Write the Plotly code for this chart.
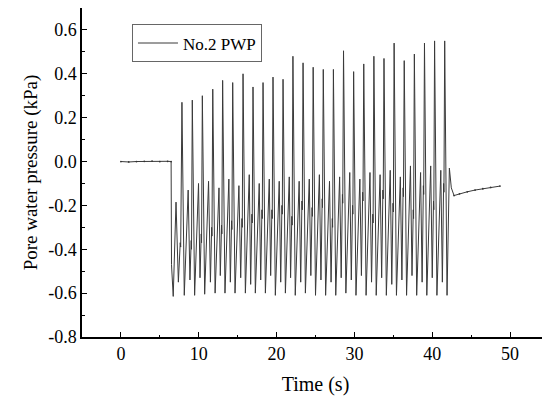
import plotly.graph_objects as go

# ---------------- data ----------------
pre_t = [0.0, 1.0, 2.0, 3.0, 4.0, 5.0, 6.0, 6.45]
pre_v = [0.0, -0.002, 0.0, 0.001, 0.002, 0.0, 0.001, 0.0]

onset_t = [6.5, 6.72, 7.08, 7.38, 7.62, 7.68]
onset_v = [-0.47, -0.615, -0.185, -0.55, -0.37, -0.39]

peak_t = [7.84, 9.17, 10.46, 11.80, 13.07, 14.36, 15.69, 16.97, 18.26, 19.54,
          20.83, 22.10, 23.40, 24.70, 26.00, 27.30, 28.60, 29.90, 31.20, 32.50,
          33.80, 35.10, 36.40, 37.70, 39.00, 40.30, 41.60]
peak_v = [0.27, 0.28, 0.30, 0.33, 0.37, 0.36, 0.40, 0.34, 0.36, 0.385,
          0.375, 0.48, 0.45, 0.43, 0.42, 0.42, 0.505, 0.41, 0.445, 0.48,
          0.47, 0.54, 0.46, 0.49, 0.54, 0.55, 0.55]
trough_v = [-0.61, -0.61, -0.605, -0.60, -0.60, -0.60, -0.60, -0.60, -0.60, -0.61,
            -0.60, -0.61, -0.60, -0.61, -0.61, -0.61, -0.60, -0.61, -0.61, -0.61,
            -0.61, -0.61, -0.61, -0.61, -0.61, -0.61, -0.61]
sec_v = [-0.13, -0.10, -0.09, -0.12, -0.08, -0.11, -0.06, -0.10, -0.08, -0.09,
         -0.07, -0.09, -0.08, -0.06, -0.09, -0.07, -0.05, -0.08, -0.05, -0.06,
         -0.04, -0.07, -0.02, -0.05, -0.02, -0.04]
trough2_v = [-0.54, -0.53, -0.55, -0.52, -0.55, -0.53, -0.56, -0.54, -0.52, -0.55,
             -0.53, -0.55, -0.52, -0.54, -0.55, -0.53, -0.54, -0.52, -0.55, -0.53,
             -0.56, -0.54, -0.52, -0.55, -0.53, -0.55]
shoulder_v = [-0.36, -0.33, -0.30, -0.29, -0.27, -0.26, -0.24, -0.22, -0.22, -0.20,
              -0.25, -0.18, -0.21, -0.17, -0.26, -0.15, -0.20, -0.14, -0.24, -0.13,
              -0.19, -0.12, -0.22, -0.11, -0.18, -0.10]

tail_t = [42.2, 42.45, 42.8, 43.5, 44.5, 45.5, 46.5, 47.5, 48.7]
tail_v = [-0.03, -0.12, -0.155, -0.147, -0.138, -0.13, -0.124, -0.118, -0.112]

x_ticks = [0, 10, 20, 30, 40, 50]
y_ticks = [-0.8, -0.6, -0.4, -0.2, 0.0, 0.2, 0.4, 0.6]
y_tick_text = ["-0.8", "-0.6", "-0.4", "-0.2", "0.0", "0.2", "0.4", "0.6"]

# ---------------- assemble the trace ----------------
t = list(pre_t) + list(onset_t)
v = list(pre_v) + list(onset_v)
n = len(peak_t)
for k in range(n):
    t.append(peak_t[k]); v.append(peak_v[k])
    t.append(peak_t[k] + 0.3); v.append(trough_v[k])
    if k < n - 1:
        nxt = peak_t[k + 1]
        t.append(peak_t[k] + 0.8); v.append(sec_v[k])
        t.append(nxt - 0.3); v.append(trough2_v[k])
        t.append(nxt - 0.14); v.append(shoulder_v[k])
        t.append(nxt - 0.1); v.append(shoulder_v[k] - 0.04)
t += tail_t
v += tail_v

font = "Liberation Serif"

fig = go.Figure()
fig.add_trace(go.Scatter(x=t, y=v, mode="lines", name="No.2 PWP",
                         line=dict(color="#3a3a3a", width=1)))
fig.add_trace(go.Scatter(x=pre_t + tail_t[2:], y=pre_v + tail_v[2:], mode="markers",
                         showlegend=False, hoverinfo="skip",
                         marker=dict(color="#333", size=1.8)))

axis_common = dict(showline=True, linecolor="black", linewidth=1.5, mirror=True,
                   ticks="inside", ticklen=5, tickwidth=1.2, tickcolor="black",
                   showgrid=False, zeroline=False, automargin=False,
                   tickfont=dict(family=font, size=18, color="black"))

fig.update_xaxes(range=[-5, 55], tickvals=x_ticks,
                 minor=dict(dtick=5, ticks="inside", ticklen=2.5, tickcolor="black"),
                 title=dict(text="Time (s)", font=dict(family=font, size=20, color="black"),
                            standoff=14),
                 **axis_common)
fig.update_yaxes(range=[-0.8, 0.7], tickvals=y_ticks, ticktext=y_tick_text,
                 minor=dict(dtick=0.1, ticks="inside", ticklen=3, tickcolor="black"),
                 title=dict(text="Pore water pressure (kPa)",
                            font=dict(family=font, size=19, color="black"), standoff=6),
                 **axis_common)

# page body keeps an 8 px default margin, so the figure is 8 px smaller
fig.update_layout(
    width=542, height=390,
    margin=dict(l=74, r=1, t=0, b=61, autoexpand=False),
    paper_bgcolor="white", plot_bgcolor="white",
    font=dict(family=font, color="black"),
    legend=dict(x=0.107, y=0.95, xanchor="left", yanchor="top",
                bgcolor="white", bordercolor="#666", borderwidth=1,
                font=dict(family=font, size=17, color="black"),
                itemwidth=40, tracegroupgap=0),
)

fig.write_html("out.html")
